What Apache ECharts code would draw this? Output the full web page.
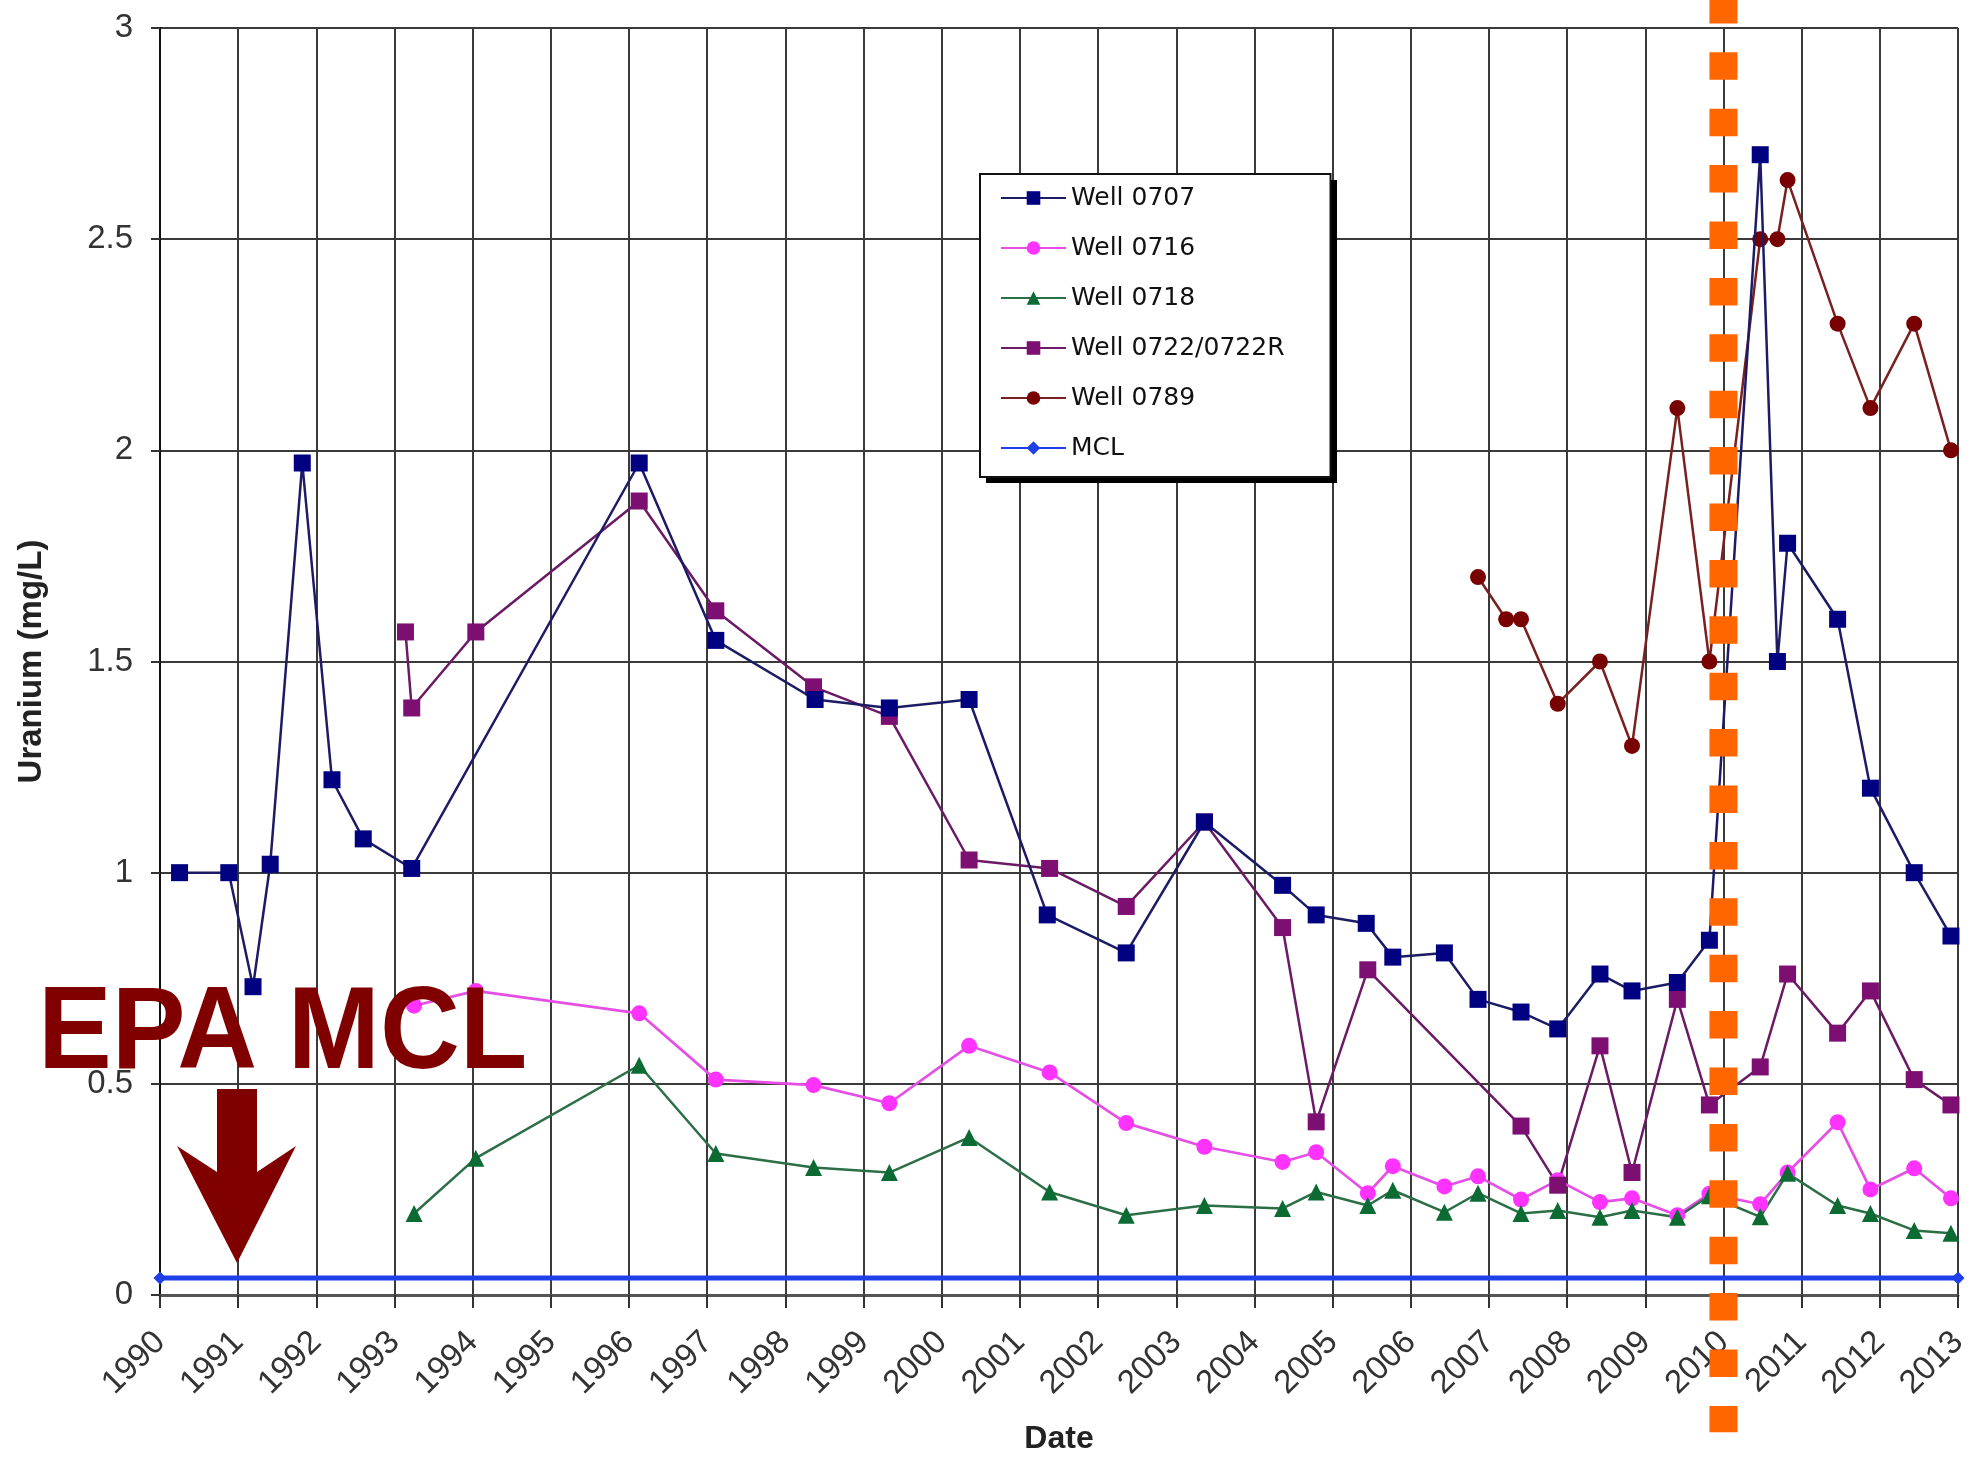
<!DOCTYPE html>
<html><head><meta charset="utf-8">
<script src="https://cdn.jsdelivr.net/npm/echarts@6/dist/echarts.min.js"></script>
<style>html,body{margin:0;padding:0;background:#fff}#c{width:1971px;height:1460px}</style>
</head><body><div id="c"></div>
<script>
// ---- data (decimal year, uranium mg/L) ----
const dates0707 = [1990.25,1990.88,1991.19,1991.41,1991.82,1992.2,1992.6,1993.22,1996.13,1997.11,1998.38,1999.33,2000.35,2001.35,2002.36,2003.36,2004.36,2004.79,2005.43,2005.77,2006.43,2006.86,2007.41,2007.88,2008.42,2008.83,2009.41,2009.82,2010.47,2010.69,2010.82,2011.46,2011.88,2012.44,2012.91];
const vals0707  = [1.0,1.0,0.73,1.02,1.97,1.22,1.08,1.01,1.97,1.55,1.41,1.39,1.41,0.90,0.81,1.12,0.97,0.90,0.88,0.80,0.81,0.70,0.67,0.63,0.76,0.72,0.74,0.84,2.70,1.50,1.78,1.60,1.20,1.00,0.85];

const dates0716 = [1993.25,1994.04,1996.13,1997.11,1998.36,1999.33,2000.35,2001.38,2002.36,2003.36,2004.36,2004.79,2005.45,2005.77,2006.43,2006.86,2007.41,2007.88,2008.42,2008.83,2009.41,2009.82,2010.47,2010.82,2011.46,2011.88,2012.44,2012.91];
const vals0716  = [0.685,0.72,0.667,0.51,0.497,0.454,0.59,0.527,0.407,0.351,0.315,0.338,0.241,0.305,0.257,0.281,0.226,0.272,0.22,0.229,0.189,0.24,0.215,0.29,0.409,0.25,0.30,0.229];

const dates0718 = [1993.25,1994.04,1996.13,1997.11,1998.36,1999.33,2000.35,2001.38,2002.36,2003.36,2004.36,2004.79,2005.45,2005.77,2006.43,2006.86,2007.41,2007.88,2008.42,2008.83,2009.41,2009.82,2010.47,2010.82,2011.46,2011.88,2012.44,2012.91];
const vals0718  = [0.193,0.324,0.544,0.335,0.302,0.29,0.373,0.244,0.189,0.212,0.205,0.244,0.212,0.248,0.196,0.241,0.193,0.20,0.184,0.20,0.184,0.235,0.185,0.288,0.212,0.193,0.153,0.146];

const dates0722 = [1993.14,1993.22,1994.04,1996.13,1997.11,1998.36,1999.33,2000.35,2001.38,2002.36,2003.36,2004.36,2004.79,2005.45,2007.41,2007.88,2008.42,2008.83,2009.41,2009.82,2010.47,2010.82,2011.46,2011.88,2012.44,2012.91];
const vals0722  = [1.57,1.39,1.57,1.88,1.62,1.44,1.37,1.03,1.01,0.92,1.12,0.87,0.41,0.77,0.40,0.26,0.59,0.29,0.70,0.45,0.54,0.76,0.62,0.72,0.51,0.45];

const dates0789 = [2006.86,2007.22,2007.41,2007.88,2008.42,2008.83,2009.41,2009.82,2010.47,2010.69,2010.82,2011.46,2011.88,2012.44,2012.91];
const vals0789  = [1.70,1.60,1.60,1.40,1.50,1.30,2.10,1.50,2.50,2.50,2.64,2.30,2.10,2.30,2.00];

const datesMCL = [1990, 2013];
const valsMCL  = [0.04, 0.04];

const markerYear = 2010;            // orange dotted marker line
const markerSpan = [3.076, -0.325]; // vertical extent (value units, beyond the axis)

const seriesNames = ['Well 0707','Well 0716','Well 0718','Well 0722/0722R','Well 0789','MCL'];
const annotationText = 'EPA MCL';

function zip(x, y) { return x.map((d, i) => [d, y[i]]); }

const chart = echarts.init(document.getElementById('c'), null, {renderer: 'canvas'});
const FONT = 'Liberation Sans, Arial, sans-serif';

const option = {
  animation: false,
  backgroundColor: '#ffffff',
  grid: {left: 160, right: 13, top: 28, bottom: 165, containLabel: false, outerBoundsMode: 'none'},
  xAxis: {
    type: 'value', min: 1990, max: 2013, interval: 1,
    name: 'Date', nameLocation: 'middle', nameGap: 128,
    nameTextStyle: {fontFamily: FONT, fontWeight: 'bold', fontSize: 32, color: '#222'},
    axisLine: {show: true, lineStyle: {color: '#555', width: 3}},
    axisTick: {show: true, length: 13, lineStyle: {color: '#333', width: 2}},
    axisLabel: {rotate: 45, margin: 42, fontFamily: FONT, fontSize: 33, color: '#333',
      hideOverlap: false, showMinLabel: true, showMaxLabel: true, formatter: v => String(v)},
    splitLine: {show: true, lineStyle: {color: '#3a3a3a', width: 2}}
  },
  yAxis: {
    type: 'value', min: 0, max: 3, interval: 0.5,
    name: 'Uranium (mg/L)', nameLocation: 'middle', nameGap: 112,
    nameTextStyle: {fontFamily: FONT, fontWeight: 'bold', fontSize: 33, color: '#222'},
    axisLine: {show: true, lineStyle: {color: '#111', width: 2}},
    axisTick: {show: true, length: 9, lineStyle: {color: '#333', width: 2}},
    axisLabel: {margin: 27, fontFamily: FONT, fontSize: 33, color: '#333', showMinLabel: true, showMaxLabel: true},
    splitLine: {show: true, lineStyle: {color: '#3a3a3a', width: 2}}
  },
  legend: {
    orient: 'vertical', left: 980, top: 174, z: 10,
    padding: [9, 46, 14, 20], itemGap: 20, itemWidth: 65, itemHeight: 17,
    backgroundColor: '#ffffff', borderColor: '#111', borderWidth: 2,
    selectedMode: false,
    textStyle: {fontFamily: 'DejaVu Sans', fontSize: 25, color: '#111', lineHeight: 30},
    data: seriesNames
  },
  series: [
    {name: seriesNames[0], type: 'line', data: zip(dates0707, vals0707), symbol: 'rect', symbolSize: 17,
     itemStyle: {color: '#000080'}, lineStyle: {color: '#1c1c66', width: 2.5}, z: 5},
    {name: seriesNames[1], type: 'line', data: zip(dates0716, vals0716), symbol: 'circle', symbolSize: 16,
     itemStyle: {color: '#ff33ff'}, lineStyle: {color: '#e64fe6', width: 2.7}, z: 4},
    {name: seriesNames[2], type: 'line', data: zip(dates0718, vals0718), symbol: 'triangle', symbolSize: 17,
     itemStyle: {color: '#0b6b32'}, lineStyle: {color: '#2c6e45', width: 2.5}, z: 4},
    {name: seriesNames[3], type: 'line', data: zip(dates0722, vals0722), symbol: 'rect', symbolSize: 17,
     itemStyle: {color: '#7d0f73'}, lineStyle: {color: '#6b1a66', width: 2.5}, z: 4},
    {name: seriesNames[4], type: 'line', data: zip(dates0789, vals0789), symbol: 'circle', symbolSize: 16,
     itemStyle: {color: '#780000'}, lineStyle: {color: '#7a2020', width: 2.5}, z: 4},
    {name: seriesNames[5], type: 'line', data: zip(datesMCL, valsMCL), symbol: 'diamond', symbolSize: 13,
     itemStyle: {color: '#1f3fe8'}, lineStyle: {color: '#1f3fe8', width: 5}, z: 6},
    {name: 'marker', type: 'line', data: [[markerYear, markerSpan[0]], [markerYear, markerSpan[1]]],
     symbol: 'none', clip: false, silent: true, z: 20,
     lineStyle: {color: '#FF6600', width: 28, type: [27.5, 28.9], cap: 'butt'}}
  ],
  graphic: [
    // legend drop shadow (drawn beneath the legend box)
    {type: 'rect', z: 1, shape: {x: 986, y: 180, width: 351, height: 303}, style: {fill: '#000'}},
    {type: 'text', x: 38, y: 1036, scaleX: 0.945, z: 100,
     style: {text: annotationText, font: 'bold 117px "Liberation Sans", Arial, sans-serif', fill: '#800000',
             align: 'left', verticalAlign: 'middle'}},
    {type: 'polygon', z: 100,
     shape: {points: [[217,1089],[257,1089],[257,1172],[296,1146],[237,1263],[177,1146],[217,1172]]},
     style: {fill: '#800000'}}
  ]
};
chart.setOption(option);
</script>
</body></html>
